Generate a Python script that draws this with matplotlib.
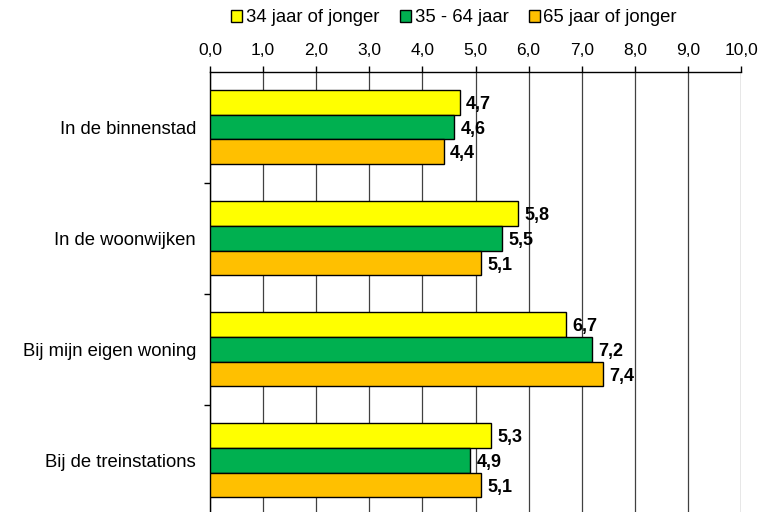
import numpy as np
import matplotlib
matplotlib.use("Agg")
import matplotlib.pyplot as plt
from matplotlib.patches import Patch

plt.rcParams["font.family"] = ["Liberation Sans", "DejaVu Sans"]

categories = ["In de binnenstad", "In de woonwijken", "Bij mijn eigen woning", "Bij de treinstations"]
series_names = ["34 jaar of jonger", "35 - 64 jaar", "65 jaar of jonger"]
jong = [4.7, 5.8, 6.7, 5.3]
midden = [4.6, 5.5, 7.2, 4.9]
oud = [4.4, 5.1, 7.4, 5.1]
colors = ["#FFFF00", "#00B050", "#FFC000"]

fig = plt.figure(figsize=(7.67, 5.12), dpi=100)
ax = fig.add_axes([210 / 767, (512 - 516) / 512, 531 / 767, 444.5 / 512])

y = np.arange(len(categories))
h = 0.222
for i, (vals, c) in enumerate(zip([jong, midden, oud], colors)):
    pos = y + (i - 1) * h
    ax.barh(pos, vals, height=h, color=c, edgecolor="black", linewidth=1, zorder=3)
    for p, v in zip(pos, vals):
        ax.text(v + 0.12, p + 0.02, f"{v:.1f}".replace(".", ","), va="center", ha="left",
                fontsize=13, fontweight="bold", zorder=4)

ax.set_xlim(0, 10)
ax.set_ylim(len(categories) - 0.5, -0.5)
ax.set_xticks(np.arange(0, 11, 1))
ax.set_xticklabels([f"{v:.1f}".replace(".", ",") for v in range(11)], fontsize=12.5)
ax.xaxis.tick_top()
ax.tick_params(axis="x", direction="out", length=4, width=1, pad=6, top=True, bottom=False)
ax.grid(axis="x", color="#404040", linewidth=0.9, zorder=0)

ax.set_yticks(y)
ax.set_yticklabels(categories, fontsize=13.3)
ax.set_yticks(np.arange(0.5, len(categories) - 0.5, 1), minor=True)
ax.tick_params(axis="y", which="major", length=0, pad=10)
ax.tick_params(axis="y", which="minor", direction="out", length=4, width=1)

for s in ["right", "bottom"]:
    ax.spines[s].set_visible(False)
ax.spines["top"].set_linewidth(1)
ax.spines["left"].set_linewidth(1)

handles = [Patch(facecolor=c, edgecolor="black", label=n) for c, n in zip(colors, series_names)]
fig.legend(handles=handles, loc="center", bbox_to_anchor=(0.592, 0.965), ncol=3, frameon=False,
           fontsize=13.3, handlelength=0.6, handleheight=0.6, handletextpad=0.2, columnspacing=1.1)

fig.savefig("out.png", dpi=100)
